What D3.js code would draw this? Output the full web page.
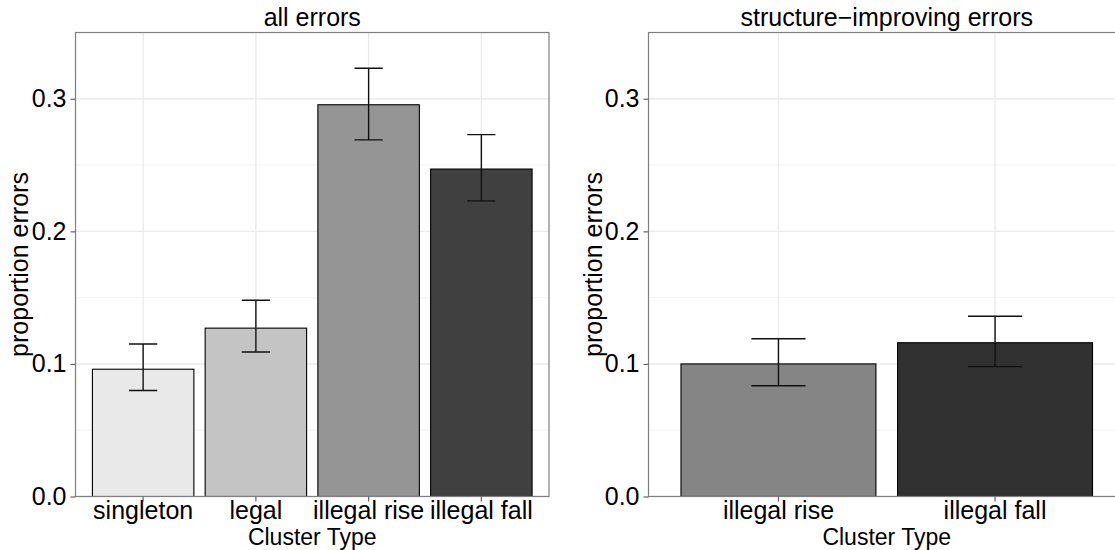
<!DOCTYPE html>
<html>
<head>
<meta charset="utf-8">
<script src="https://cdn.jsdelivr.net/npm/d3@7"></script>
<style>
  html, body { margin: 0; padding: 0; background: #fff; }
  svg { display: block; font-family: "Liberation Sans", Arial, Helvetica, sans-serif; }
</style>
</head>
<body>
<svg id="chart" width="1115" height="550"></svg>
<script>
// Proportion of errors by cluster type, with error bar limits
const allCategories = ["singleton", "legal", "illegal rise", "illegal fall"];
const allProportion = [0.096, 0.127, 0.2955, 0.247];
const allLower = [0.080, 0.109, 0.269, 0.223];
const allUpper = [0.115, 0.148, 0.323, 0.273];
const allFills = ["#e9e9e9", "#c4c4c4", "#959595", "#404040"];

const structCategories = ["illegal rise", "illegal fall"];
const structProportion = [0.100, 0.116];
const structLower = [0.0835, 0.098];
const structUpper = [0.119, 0.136];
const structFills = ["#858585", "#313131"];

const yTicks = [0, 0.1, 0.2, 0.3];
const yMinorTicks = [0.05, 0.15, 0.25];
const yDomain = [0, 0.35];

const panelTitles = ["all errors", "structure\u2212improving errors"];
const xTitle = "Cluster Type";
const yTitle = "proportion errors";

const svg = d3.select("#chart");
const FONT = 25;

function drawPanel(cfg) {
  const { left, right, top, bottom, cats, vals, lo, hi, fills, title, yTitleX } = cfg;
  const g = svg.append("g");

  const x = d3.scaleBand().domain(cats).range([left, right])
    .paddingInner(0.1).paddingOuter(0.15);
  const step = x.step();
  const y = d3.scaleLinear().domain(yDomain).range([bottom, top]);

  // clip to panel area
  const clipId = "clip-" + Math.round(left);
  svg.append("clipPath").attr("id", clipId)
    .append("rect").attr("x", left).attr("y", top)
    .attr("width", right - left).attr("height", bottom - top);
  const inner = g.append("g").attr("clip-path", `url(#${clipId})`);

  // minor gridlines
  inner.selectAll(".minor").data(yMinorTicks).enter().append("line")
    .attr("x1", left).attr("x2", right)
    .attr("y1", d => y(d)).attr("y2", d => y(d))
    .attr("stroke", "#f6f6f6").attr("stroke-width", 1.2);
  // major gridlines
  inner.selectAll(".major").data(yTicks).enter().append("line")
    .attr("x1", left).attr("x2", right)
    .attr("y1", d => y(d)).attr("y2", d => y(d))
    .attr("stroke", "#ebebeb").attr("stroke-width", 1.4);
  inner.selectAll(".vmajor").data(cats).enter().append("line")
    .attr("x1", d => x(d) + x.bandwidth() / 2).attr("x2", d => x(d) + x.bandwidth() / 2)
    .attr("y1", top).attr("y2", bottom)
    .attr("stroke", "#ebebeb").attr("stroke-width", 1.4);

  // bars
  inner.selectAll(".bar").data(cats).enter().append("rect")
    .attr("x", d => x(d)).attr("width", x.bandwidth())
    .attr("y", (d, i) => y(vals[i]))
    .attr("height", (d, i) => y(0) - y(vals[i]))
    .attr("fill", (d, i) => fills[i])
    .attr("stroke", "#000").attr("stroke-width", 1.1);

  // error bars
  const capHalf = step * 0.25 / 2;
  const eb = inner.selectAll(".eb").data(cats).enter().append("g");
  eb.append("line")
    .attr("x1", d => x(d) + x.bandwidth() / 2).attr("x2", d => x(d) + x.bandwidth() / 2)
    .attr("y1", (d, i) => y(lo[i])).attr("y2", (d, i) => y(hi[i]))
    .attr("stroke", "#111").attr("stroke-width", 1.4);
  eb.append("line")
    .attr("x1", d => x(d) + x.bandwidth() / 2 - capHalf).attr("x2", d => x(d) + x.bandwidth() / 2 + capHalf)
    .attr("y1", (d, i) => y(hi[i])).attr("y2", (d, i) => y(hi[i]))
    .attr("stroke", "#111").attr("stroke-width", 1.4);
  eb.append("line")
    .attr("x1", d => x(d) + x.bandwidth() / 2 - capHalf).attr("x2", d => x(d) + x.bandwidth() / 2 + capHalf)
    .attr("y1", (d, i) => y(lo[i])).attr("y2", (d, i) => y(lo[i]))
    .attr("stroke", "#111").attr("stroke-width", 1.4);

  // panel border
  g.append("rect").attr("x", left).attr("y", top)
    .attr("width", right - left).attr("height", bottom - top)
    .attr("fill", "none").attr("stroke", "#7f7f7f").attr("stroke-width", 1.2);

  // axes
  const yAxis = d3.axisLeft(y).tickValues(yTicks).tickFormat(d3.format(".1f"))
    .tickSize(5).tickPadding(4);
  const ya = g.append("g").attr("transform", `translate(${left},0)`).call(yAxis);
  ya.select(".domain").remove();
  ya.selectAll(".tick line").attr("stroke", "#666").attr("stroke-width", 1.2);
  ya.selectAll(".tick text").attr("font-size", FONT).attr("fill", "#000")
    .attr("font-family", "Liberation Sans, Arial, sans-serif");

  const xAxis = d3.axisBottom(x).tickSize(5).tickPadding(3);
  const xa = g.append("g").attr("transform", `translate(0,${bottom})`).call(xAxis);
  xa.select(".domain").remove();
  xa.selectAll(".tick line").attr("stroke", "#666").attr("stroke-width", 1.2);
  xa.selectAll(".tick text").attr("font-size", FONT).attr("fill", "#000")
    .attr("dy", null).attr("y", 22.5)
    .attr("font-family", "Liberation Sans, Arial, sans-serif");

  // titles
  g.append("text").attr("x", (left + right) / 2).attr("y", 26)
    .attr("text-anchor", "middle").attr("font-size", FONT).attr("fill", "#000")
    .text(title);
  g.append("text").attr("x", (left + right) / 2).attr("y", 545)
    .attr("text-anchor", "middle").attr("font-size", 23).attr("fill", "#000")
    .text(xTitle);
  g.append("text")
    .attr("transform", `translate(${yTitleX},${(top + bottom) / 2}) rotate(-90)`)
    .attr("text-anchor", "middle").attr("font-size", FONT).attr("fill", "#000")
    .text(yTitle);
}

drawPanel({
  left: 75.5, right: 549, top: 32.5, bottom: 496.5,
  cats: allCategories, vals: allProportion, lo: allLower, hi: allUpper,
  fills: allFills, title: panelTitles[0], yTitleX: 28
});
drawPanel({
  left: 648.5, right: 1125, top: 32.5, bottom: 496.5,
  cats: structCategories, vals: structProportion, lo: structLower, hi: structUpper,
  fills: structFills, title: panelTitles[1], yTitleX: 602
});
</script>
</body>
</html>
